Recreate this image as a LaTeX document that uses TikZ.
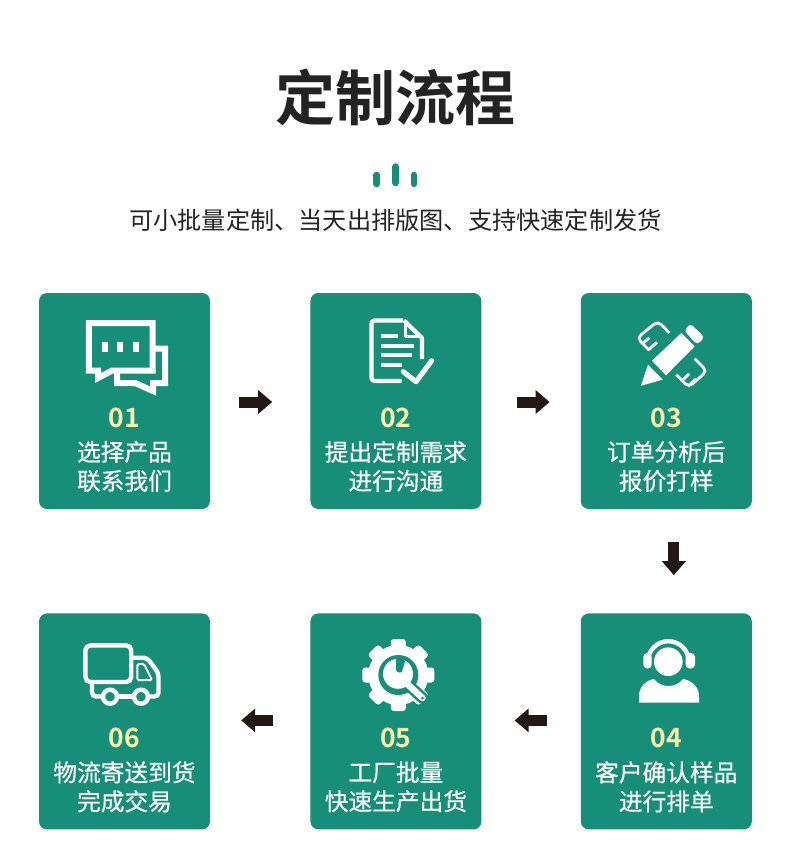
\documentclass[tikz,border=0pt]{standalone}
\usepackage{xcolor}
\usepackage{fontspec}
\setmainfont{Noto Sans CJK SC}[FakeBold=0.6]
\newfontfamily\titlefont{Noto Sans CJK SC Bold}
\newfontfamily\plainfont{Noto Sans CJK SC}
\usetikzlibrary{arrows.meta, positioning}
\definecolor{cardgreen}{RGB}{22, 142, 120}
\definecolor{numyellow}{RGB}{251, 244, 168}
\definecolor{arrowdark}{RGB}{35, 24, 21}
\definecolor{titledark}{RGB}{35, 35, 35}

\begin{document}
\begin{tikzpicture}[
    x=1pt, y=-1pt,
    node distance=104pt and 99pt,
    card/.style={rectangle, rounded corners=8pt, minimum width=171pt, minimum height=216pt, inner sep=0pt, fill=cardgreen},
    cardnum/.style={inner sep=0pt, text=numyellow, font=\fontsize{26.5pt}{27pt}\titlefont, text height=20pt, text depth=0pt},
    cardtext/.style={inner sep=0pt, text=white, align=center, font=\fontsize{23.7pt}{29pt}\selectfont},
    flow/.style={line width=11pt, draw=arrowdark, -{Triangle[width=23pt,length=14pt]}},
    icon/.style={draw=white, line width=6pt, miter limit=10},
    thinicon/.style={draw=white, line width=4.2pt, line cap=round, line join=round},
    ruler/.style={draw=white, line width=2.8pt, rounded corners=5pt},
    tick/.style={draw=cardgreen, line width=6.5pt, line cap=round}
]
    \useasboundingbox[fill=white] (0,0) rectangle (790,856);

    \node[text=titledark, inner sep=0pt, font=\fontsize{60pt}{60pt}\titlefont] (title) at (395.5,97) {定制流程};
    \node[text=titledark, inner sep=0pt, font=\fontsize{24.2pt}{25pt}\plainfont] (subtitle) at (395.5,220) {可小批量定制、当天出排版图、支持快速定制发货};

    \draw[tick] (376.7,175) -- (376.7,184);
    \draw[tick] (395.7,166.5) -- (395.7,183);
    \draw[tick] (414,175) -- (414,184);

    \node[card] (card1) at (124.5,401) {};
    \node[card, right=100pt of card1] (card2) {};
    \node[card, right=of card2] (card3) {};
    \node[card, below=of card3] (card4) {};
    \node[card, left=of card4] (card5) {};
    \node[card, left=100pt of card5] (card6) {};

    \node[cardnum, below=114pt of card1.north] (num1) {01};
    \node[cardnum, below=114pt of card2.north] (num2) {02};
    \node[cardnum, below=114pt of card3.north] (num3) {03};
    \node[cardnum, below=114pt of card4.north] (num4) {04};
    \node[cardnum, below=114pt of card5.north] (num5) {05};
    \node[cardnum, below=114pt of card6.north] (num6) {06};

    \node[cardtext, below=13.5pt of num1] (text1) {选择产品\\联系我们};
    \node[cardtext, below=13.5pt of num2] (text2) {提出定制需求\\进行沟通};
    \node[cardtext, below=13.5pt of num3] (text3) {订单分析后\\报价打样};
    \node[cardtext, below=13.5pt of num4] (text4) {客户确认样品\\进行排单};
    \node[cardtext, below=13.5pt of num5] (text5) {工厂批量\\快速生产出货};
    \node[cardtext, below=13.5pt of num6] (text6) {物流寄送到货\\完成交易};

    \draw[flow, shorten <=29pt, shorten >=38pt] ([yshift=-1pt]card1.east) -- ([yshift=-1pt]card2.west);
    \draw[flow, shorten <=35pt, shorten >=31pt] ([yshift=-1pt]card2.east) -- ([yshift=-1pt]card3.west);
    \draw[flow, shorten <=33pt, shorten >=38pt] ([xshift=7.5pt]card3.south) -- ([xshift=7.5pt]card4.north);
    \draw[flow, shorten <=34pt, shorten >=33pt] ([yshift=1pt]card4.west) -- ([yshift=1pt]card5.east);
    \draw[flow, shorten <=37pt, shorten >=31pt] ([yshift=1pt]card5.west) -- ([yshift=1pt]card6.east);

    % chat icon
    \draw[icon] (88.8,323) -- (152.7,323) -- (152.7,370.6) -- (112,370.6) -- (98,378) -- (98,370.6) -- (88.8,370.6) -- cycle;
    \draw[icon] (155,348.7) -- (165,348.7) -- (165,383) -- (153,383) -- (153,391) -- (135,383) -- (117,383) -- (117,373);
    \foreach \dotx in {101.7,117.3,133.3}
        \fill[white] (\dotx,342.3) rectangle (\dotx+6,351.7);

    % document icon
    \draw[thinicon, line cap=butt, rounded corners=3pt] (403,320.5) -- (371.5,320.5) -- (371.5,381) -- (401.7,381);
    \draw[thinicon, line cap=butt] (404,320.5) -- (422,338) -- (422,359);
    \draw[draw=white, line width=3pt, line join=round] (405.5,321.5) -- (405.5,336) -- (421,336);
    \foreach \liney/\lineend in {336/398,346/414,355.3/411.7,365.3/401.7}
        \draw[draw=white, line width=4pt] (380.7,\liney) -- (\lineend,\liney);
    \draw[thinicon, line width=5pt] (403.3,371.7) -- (416,381.7) -- (431.7,360.7);

    % pencil icon
    \fill[white] (652,360.7) -- (681.3,333) -- (694.7,346.3) -- (666,375.3) -- cycle;
    \fill[white] (648,364.7) -- (662.7,379.7) -- (641,385.7) -- cycle;
    \fill[white, rounded corners=3.5pt] (684.3,330.7) -- (690.3,323.5) -- (704.5,337.3) -- (697,344.7) -- cycle;
    \draw[ruler] (669.3,333) -- (658,321) -- (637,338) -- (649.3,350.3);
    \draw[ruler] (642.7,343.3) -- (649.3,338) (648.7,349.7) -- (657,342.3);
    \draw[ruler] (694.7,358.7) -- (707,371) -- (688.7,387.3) -- (676.3,374.7);
    \draw[ruler] (682,380.7) -- (689.3,373.7) (688,386.3) -- (696,379);

    % headset icon
    \fill[white] (668.3,661.7) circle[radius=14.3];
    \draw[draw=white, line width=4.4pt] (647.8,661.7) arc[start angle=180, end angle=360, radius=20.5];
    \fill[white, rounded corners=4pt] (643.3,653) rectangle (651.7,668.5);
    \fill[white, rounded corners=4pt] (685.5,653) rectangle (695,668.5);
    \fill[white] (639,702.7) -- (639,696) .. controls (639,686) and (647,680) .. (654,679) .. controls (658,684) and (663,686) .. (668.3,686) .. controls (674,686) and (679,684) .. (683,679) .. controls (690,680) and (699,686) .. (699,696) -- (699,702.7) -- cycle;

    % gear icon
    \begin{scope}[shift={(398.3,675)}]
        \fill[white] (0,0) circle[radius=30];
        \foreach \gearang in {0,45,...,315}
            \fill[white, rotate=\gearang, rounded corners=3pt] (-7.5,-36) rectangle (7.5,-20);
        \fill[cardgreen] (0,0) circle[radius=20];
    \end{scope}
    \draw[draw=cardgreen, line width=11.5pt, line cap=round] (403,680) -- (422.5,698);
    \fill[white] (398,673.8) circle[radius=15];
    \fill[cardgreen, rounded corners=1.5pt] (396,657) -- (405.5,660) -- (401.5,673) -- (396,671.5) -- cycle;
    \draw[draw=white, line width=6.5pt, line cap=round] (404,681) -- (422.5,698);
    \fill[cardgreen] (422.5,698) circle[radius=1.5];

    % truck icon
    \draw[draw=white, line width=4.4pt, rounded corners=5pt] (85.4,645.4) rectangle (131.2,682);
    \draw[draw=white, line width=4.4pt, rounded corners=4pt] (133,657.7) -- (147,657.7) -- (158.5,673) -- (158.5,696.5) -- (150,696.5);
    \draw[draw=white, line width=4.4pt, rounded corners=4pt] (92,684) -- (92,696.5) -- (101,696.5);
    \draw[draw=white, line width=4.4pt] (117,696.5) -- (133,696.5);
    \draw[draw=white, line width=4.4pt] (110,696.7) circle[radius=7];
    \draw[draw=white, line width=4.4pt] (141,696.7) circle[radius=7];
    \draw[draw=white, line width=2pt, rounded corners=1.5pt] (137.3,664) -- (144,664) -- (152,680) -- (137.3,680) -- cycle;

\end{tikzpicture}
\end{document}
